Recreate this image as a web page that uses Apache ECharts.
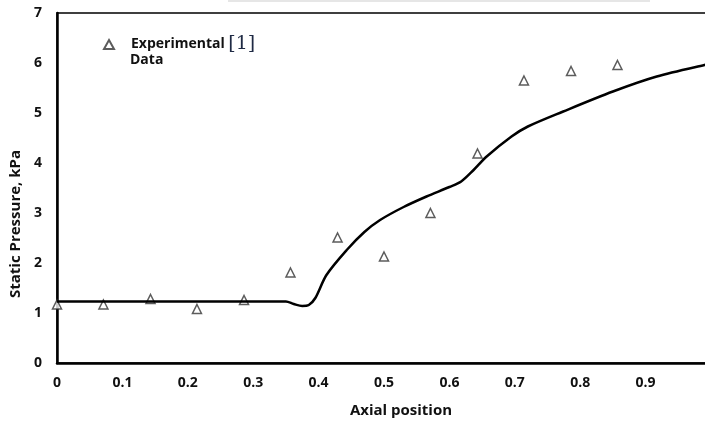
<!DOCTYPE html>
<html><head><meta charset="utf-8">
<script src="https://cdn.jsdelivr.net/npm/echarts@6/dist/echarts.min.js"></script>
<style>html,body{margin:0;padding:0;background:#fff}#c{width:705px;height:421px}</style>
</head><body><div id="c"></div>
<script>
// Experimental data (triangles)
var expX = [0, 0.071, 0.143, 0.214, 0.286, 0.357, 0.429, 0.5, 0.571, 0.643, 0.714, 0.786, 0.857];
var expY = [1.17, 1.17, 1.28, 1.08, 1.26, 1.81, 2.51, 2.13, 3.0, 4.19, 5.65, 5.84, 5.96];
// Simulation curve
var simX = [0, 0.1, 0.2, 0.3, 0.35, 0.362, 0.375, 0.385, 0.395, 0.412, 0.443, 0.47, 0.494, 0.53, 0.565, 0.6, 0.618, 0.637, 0.657, 0.695, 0.72, 0.774, 0.85, 0.917, 0.99, 1.0];
var simY = [1.23, 1.23, 1.23, 1.23, 1.23, 1.18, 1.14, 1.16, 1.3, 1.76, 2.26, 2.62, 2.86, 3.12, 3.33, 3.52, 3.63, 3.86, 4.13, 4.53, 4.73, 5.03, 5.43, 5.73, 5.96, 5.98];
var yTicks = [0, 1, 2, 3, 4, 5, 6, 7];
var xTicks = [0, 0.1, 0.2, 0.3, 0.4, 0.5, 0.6, 0.7, 0.8, 0.9, 1];

var chart = echarts.init(document.getElementById('c'));
var font = '"Open Sans", "DejaVu Sans", sans-serif';
chart.setOption({
  animation: false,
  grid: {left: 57, top: 13, width: 654, height: 350, outerBoundsMode: 'none', containLabel: false,
    show: true, borderColor: '#000', borderWidth: 1.5, backgroundColor: 'transparent'},
  legend: {
    left: 98, top: 30, itemWidth: 10, itemHeight: 9, itemGap: 6,
    data: [{name: 'exp', icon: 'triangle'}],
    formatter: function(){ return 'Experimental {r|[1]}'; },
    textStyle: {fontFamily: font, fontWeight: 'bold', fontSize: 14, color: '#111', padding: [0, 0, 0, 12],
      rich: {r: {fontFamily: '"DejaVu Serif", serif', fontWeight: 'normal', fontSize: 19, color: '#1f2a44'}}}
  },
  xAxis: {
    type: 'value', min: 0, max: 1, interval: 0.1,
    name: 'Axial position', nameLocation: 'middle', nameGap: 40,
    nameTextStyle: {fontFamily: font, fontWeight: 'bold', fontSize: 15, color: '#111', padding: [0, 0, 0, 34]},
    axisLine: {lineStyle: {color: '#000', width: 2.5}},
    axisTick: {show: false}, splitLine: {show: false},
    axisLabel: {margin: 13, fontFamily: font, fontWeight: 'bold', fontSize: 14, color: '#111',
      formatter: function(v){ return String(Math.round(v*10)/10); }}
  },
  yAxis: {
    type: 'value', min: 0, max: 7, interval: 1,
    name: 'Static Pressure, kPa', nameLocation: 'middle', nameGap: 34,
    nameTextStyle: {fontFamily: font, fontWeight: 'bold', fontSize: 15, color: '#111', padding: [0, 72, 0, 0]},
    axisLine: {lineStyle: {color: '#000', width: 2.5}},
    axisTick: {show: false}, splitLine: {show: false},
    axisLabel: {margin: 15, fontFamily: font, fontWeight: 'bold', fontSize: 14, color: '#111'}
  },
  graphic: [
    {type: 'line', shape: {x1: 228, y1: 1, x2: 650, y2: 1}, style: {stroke: '#e6e6e6', lineWidth: 2}},
    {type: 'text', left: 130, top: 53, style: {text: 'Data', fontFamily: font, fontWeight: 'bold', fontSize: 14, fill: '#111'}}
  ],
  series: [
    {name: 'sim', type: 'line', smooth: 0.3, showSymbol: false, symbol: 'none',
     lineStyle: {color: '#000', width: 2.5},
     data: simX.map(function(x, i){ return [x, simY[i]]; })},
    {name: 'exp', type: 'scatter', symbol: 'triangle', symbolSize: 9,
     itemStyle: {color: '#fff', borderColor: '#333', borderWidth: 1.5},
     data: expX.map(function(x, i){ return [x, expY[i]]; })}
  ]
});
</script></body></html>
